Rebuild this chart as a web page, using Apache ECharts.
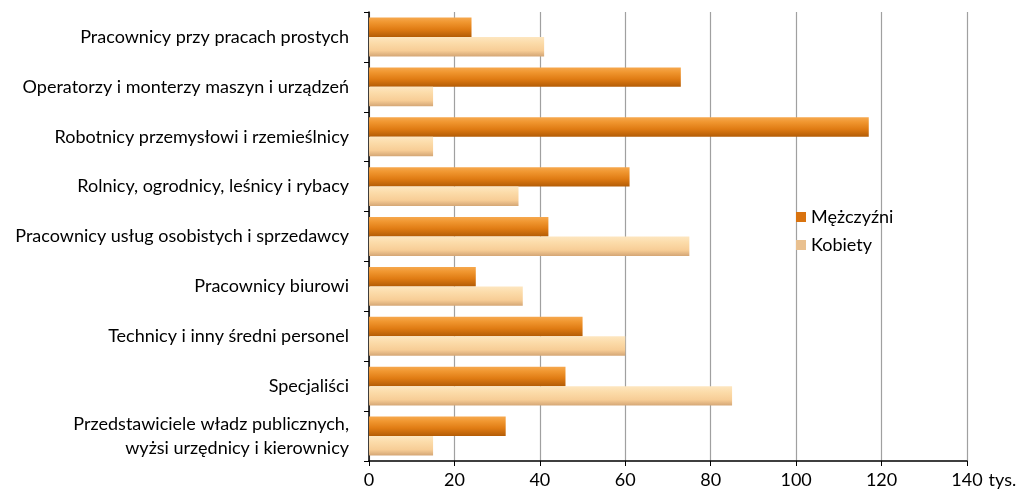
<!DOCTYPE html>
<html>
<head>
<meta charset="utf-8">
<script src="https://cdn.jsdelivr.net/npm/echarts@6/dist/echarts.min.js"></script>
<style>
html,body{margin:0;padding:0;background:#fff;}
#chart{width:1022px;height:495px;}
</style>
</head>
<body>
<div id="chart"></div>
<script>
const categories = [
  "Pracownicy przy pracach prostych",
  "Operatorzy i monterzy maszyn i urządzeń",
  "Robotnicy przemysłowi i rzemieślnicy",
  "Rolnicy, ogrodnicy, leśnicy i rybacy",
  "Pracownicy usług osobistych i sprzedawcy",
  "Pracownicy biurowi",
  "Technicy i inny średni personel",
  "Specjaliści",
  "Przedstawiciele władz publicznych,\nwyżsi urzędnicy i kierownicy"
];
const seriesNames = ["Mężczyźni", "Kobiety"];
const men = [24, 73, 117, 61, 42, 25, 50, 46, 32];
const women = [41, 15, 15, 35, 75, 36, 60, 85, 15];
const xTicks = [0, 20, 40, 60, 80, 100, 120, 140];
const unitLabel = "tys.";

const FONT = "Lato";
const FS = 18;
const chart = echarts.init(document.getElementById('chart'), null, {renderer: 'canvas'});

const menGrad = new echarts.graphic.LinearGradient(0, 0, 0, 1, [
  {offset: 0, color: '#f6a84e'},
  {offset: 0.25, color: '#f0962f'},
  {offset: 0.6, color: '#e07c14'},
  {offset: 1, color: '#b35c06'}
]);
const womenGrad = new echarts.graphic.LinearGradient(0, 0, 0, 1, [
  {offset: 0, color: '#fde6c0'},
  {offset: 0.3, color: '#fcdcaa'},
  {offset: 0.7, color: '#f7cd96'},
  {offset: 1, color: '#d4a675'}
]);

chart.setOption({
  animation: false,
  backgroundColor: '#ffffff',
  textStyle: {fontFamily: FONT, color: '#000'},
  grid: {left: 369, right: 55, top: 12, bottom: 34, containLabel: false},
  legend: {
    orient: 'vertical',
    left: 791,
    top: 203,
    itemWidth: 10,
    itemHeight: 10,
    itemGap: 10,
    icon: 'rect',
    textStyle: {fontFamily: FONT, fontSize: FS, color: '#000'},
    data: [
      {name: seriesNames[0], itemStyle: {color: '#d9730f'}},
      {name: seriesNames[1], itemStyle: {color: '#e9c08f'}}
    ]
  },
  xAxis: {
    type: 'value',
    min: xTicks[0],
    max: xTicks[xTicks.length - 1],
    interval: 20,
    name: unitLabel,
    nameLocation: 'end',
    nameGap: 10,
    nameTextStyle: {fontFamily: FONT, fontSize: FS, color: '#000', verticalAlign: 'top', padding: [10, 0, 0, 0]},
    axisLine: {show: true, lineStyle: {color: '#000', width: 1.5}},
    axisTick: {show: true, length: 5, lineStyle: {color: '#000'}},
    axisLabel: {fontFamily: FONT, fontSize: FS, color: '#000', margin: 10},
    splitLine: {show: true, lineStyle: {color: '#a0a0a0', width: 1.2}}
  },
  yAxis: {
    type: 'category',
    inverse: true,
    data: categories,
    axisLine: {show: true, lineStyle: {color: '#000', width: 1.5}},
    axisTick: {show: true, length: 5, lineStyle: {color: '#000'}},
    axisLabel: {fontFamily: FONT, fontSize: FS, color: '#000', margin: 20, lineHeight: 24, align: 'right'},
    splitLine: {show: false}
  },
  series: [
    {
      name: seriesNames[0],
      type: 'bar',
      data: men,
      barGap: '0%',
      barCategoryGap: '22%',
      itemStyle: {color: menGrad}
    },
    {
      name: seriesNames[1],
      type: 'bar',
      data: women,
      barGap: '0%',
      barCategoryGap: '22%',
      itemStyle: {color: womenGrad}
    }
  ]
});
</script>
</body>
</html>
